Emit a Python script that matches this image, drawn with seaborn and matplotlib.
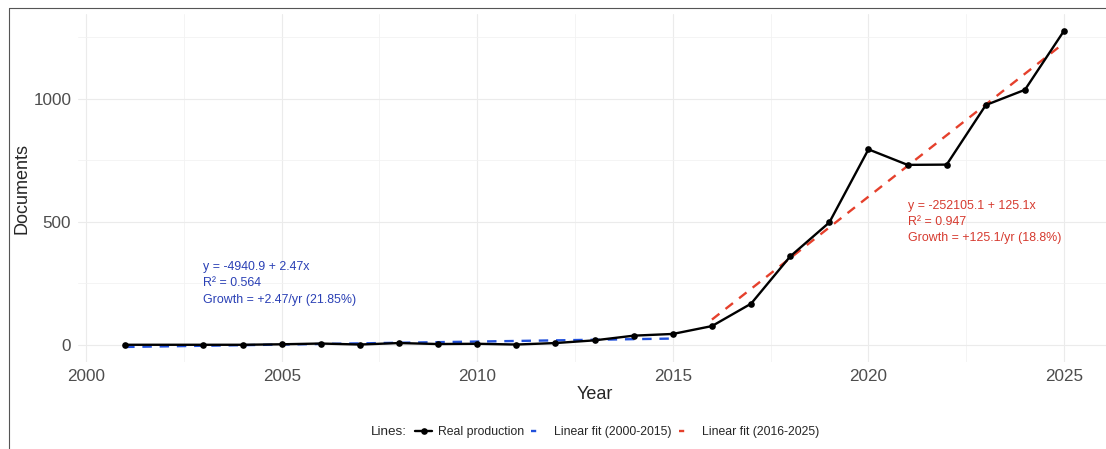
import numpy as np
import pandas as pd
import matplotlib
matplotlib.use("Agg")
import matplotlib.pyplot as plt
from matplotlib.lines import Line2D
from matplotlib.ticker import MultipleLocator
import seaborn as sns

years = [2001, 2003, 2004, 2005, 2006, 2007, 2008, 2009, 2010, 2011, 2012, 2013,
         2014, 2015, 2016, 2017, 2018, 2019, 2020, 2021, 2022, 2023, 2024, 2025]
documents = [1, 1, 1, 3, 6, 2, 8, 4, 5, 2, 8, 19,
             38, 45, 77, 168, 360, 498, 795, 732, 733, 975, 1037, 1277]

early_label = "y = -4940.9 + 2.47x\nR² = 0.564\nGrowth = +2.47/yr (21.85%)"
late_label = "y = -252105.1 + 125.1x\nR² = 0.947\nGrowth = +125.1/yr (18.8%)"
legend_labels = ["Real production", "Linear fit (2000-2015)", "Linear fit (2016-2025)"]

blue = "#2150db"
red = "#e5402c"

df = pd.DataFrame({"Year": years, "Documents": documents})
early = df[df["Year"] <= 2015].copy()
late = df[df["Year"] >= 2016].copy()
early["fit"] = np.polyval(np.polyfit(early["Year"], early["Documents"], 1), early["Year"])
late["fit"] = np.polyval(np.polyfit(late["Year"], late["Documents"], 1), late["Year"])

sns.set_style("white")
plt.rcParams["font.family"] = ["Liberation Sans", "DejaVu Sans"]

fig = plt.figure(figsize=(11.06, 4.49), dpi=100)
W, H = 1106, 449
ax = fig.add_axes([78.2 / W, (H - 362) / H, (1111 - 78.2) / W, (362 - 14) / H])

sns.lineplot(data=early, x="Year", y="fit", ax=ax, color=blue, linewidth=1.7,
             linestyle=(0, (4, 3.3)))
sns.lineplot(data=late, x="Year", y="fit", ax=ax, color=red, linewidth=1.7,
             linestyle=(0, (4, 3.3)))
sns.lineplot(data=df, x="Year", y="Documents", ax=ax, color="black", linewidth=1.7,
             marker="o", markersize=4.8, markeredgewidth=0)

ax.text(2003, 250, early_label, color="#2a40b5", fontsize=8.9, ha="left", va="center",
        linespacing=1.45)
ax.text(2021, 500, late_label, color="#d63a2f", fontsize=8.9, ha="left", va="center",
        linespacing=1.45)

ax.set_xlim(1999.8, 2026.2)
ax.set_ylim(-69, 1345)
ax.xaxis.set_major_locator(MultipleLocator(5))
ax.xaxis.set_minor_locator(MultipleLocator(2.5))
ax.yaxis.set_major_locator(MultipleLocator(500))
ax.yaxis.set_minor_locator(MultipleLocator(250))
ax.grid(which="major", color="#ebebeb", linewidth=0.8)
ax.grid(which="minor", color="#f2f2f2", linewidth=0.6)
ax.set_axisbelow(True)
for s in ax.spines.values():
    s.set_visible(False)
ax.tick_params(which="both", length=0)
ax.tick_params(axis="both", labelsize=12.3, labelcolor="#4d4d4d", pad=5)

ax.set_xlabel("Year", fontsize=13)
ax.set_ylabel("Documents", fontsize=13)
ax.xaxis.set_label_coords(0.5, (362 - 386) / 348)
ax.yaxis.set_label_coords((31 - 78.2) / 1032.8, 0.5)

handles = [
    Line2D([], [], color="black", linewidth=1.7, marker="o", markersize=4.8, markeredgewidth=0),
    Line2D([], [], color=blue, linewidth=1.7, linestyle=(0, (2.2, 20))),
    Line2D([], [], color=red, linewidth=1.7, linestyle=(0, (2.2, 20))),
]
fig.legend(handles, legend_labels, loc="center left", bbox_to_anchor=(415 / W, 1 - 432 / H),
           ncol=3, frameon=False, fontsize=8.8, handlelength=1.4, handletextpad=0.5,
           columnspacing=0.55, borderpad=0, borderaxespad=0)
fig.text(371 / W, 1 - 432 / H, "Lines:", fontsize=9.7, ha="left", va="center")

# outer frame of the original export (top and left edges visible)
fig.add_artist(Line2D([9 / W, 1], [1 - 8 / H, 1 - 8 / H], color="#555555", linewidth=0.8))
fig.add_artist(Line2D([9 / W, 9 / W], [0, 1 - 8 / H], color="#555555", linewidth=0.8))

fig.savefig("out.png", dpi=100)
